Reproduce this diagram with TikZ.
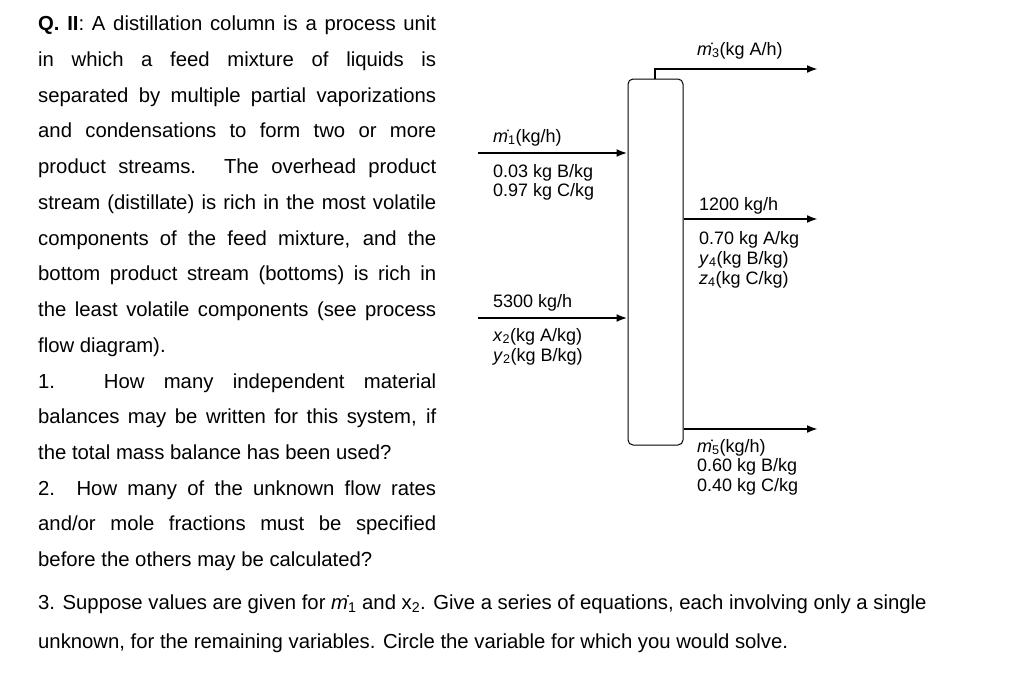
\documentclass[tikz,border=0pt]{standalone}
\usetikzlibrary{arrows.meta}
\usepackage{fontspec}
\setmainfont{Liberation Sans}
\newcommand\mdot[1]{\.{\textit{m}}\textsubscript{#1}}
\newcommand\vsub[2]{\textit{#1}\textsubscript{#2}}
\begin{document}
\begin{tikzpicture}[x=1pt,y=-1pt,
  tl/.style={anchor=base west,inner sep=0pt,font=\fontsize{20.3}{22}\selectfont},
  dl/.style={anchor=base west,inner sep=0pt,font=\fontsize{18}{20}\selectfont},
  flow/.style={line width=2.6pt,-{Latex[length=11pt,width=8pt]}}]
\useasboundingbox (0,0) rectangle (1024,686);
\foreach \t/\y in {{\textbf{Q. II}: A distillation column is a process unit}/30,
 {in which a feed mixture of liquids is}/66,
 {separated by multiple partial vaporizations}/102,
 {and condensations to form two or more}/137,
 {product streams. The overhead product}/173,
 {stream (distillate) is rich in the most volatile}/209,
 {components of the feed mixture, and the}/245,
 {bottom product stream (bottoms) is rich in}/280,
 {the least volatile components (see process}/316,
 {1. How many independent material}/388,
 {balances may be written for this system, if}/423,
 {2. How many of the unknown flow rates}/495,
 {and/or mole fractions must be specified}/530}
 {\node[tl] at (38,\y) {\makebox[398pt][s]{\t}};}
\node[tl] (a) at (38,352) {flow diagram).};
\node[tl] (b) at (38,459) {the total mass balance has been used?};
\node[tl] (c) at (38,566) {before the others may be calculated?};
\node[tl] (d) at (38,609) {3. Suppose values are given for \mdot{1} and x\textsubscript{2}. Give a series of equations, each involving only a single};
\node[tl] (e) at (38,648) {unknown, for the remaining variables. Circle the variable for which you would solve.};
% diagram
\node[draw,line width=1pt,rounded corners=5pt,minimum width=55pt,minimum height=366pt,inner sep=0pt] (col) at (655.5,262) {};
\coordinate (top) at (655,79);
\coordinate (e3) at (818,69);
\coordinate (s1) at (478,153); \coordinate (s2) at (478,318);
\coordinate (e4) at (818,219); \coordinate (e5) at (818,429);
\draw[flow] (top) |- (e3);
\draw[flow] (s1) -- (s1 -| col.west);
\draw[flow] (s2) -- (s2 -| col.west);
\draw[flow] (col.east |- e4) -- (e4);
\draw[flow] (col.east |- e5) -- (e5);
\node[dl] (l3) at (697,55) {\mdot{3}(kg A/h)};
\node[dl] (l1) at (493,142) {\mdot{1}(kg/h)};
\node[dl] (l1b) at (493,177) {0.03 kg B/kg};
\node[dl] (l1c) at (493,196) {0.97 kg C/kg};
\node[dl] (l4) at (699,210) {1200 kg/h};
\node[dl] (l4b) at (699,244) {0.70 kg A/kg};
\node[dl] (l4c) at (699,264) {\vsub{y}{4}(kg B/kg)};
\node[dl] (l4d) at (699,284) {\vsub{z}{4}(kg C/kg)};
\node[dl] (l2) at (493,307) {5300 kg/h};
\node[dl] (l2b) at (493,341) {\vsub{x}{2}(kg A/kg)};
\node[dl] (l2c) at (493,361) {\vsub{y}{2}(kg B/kg)};
\node[dl] (l5) at (697,452) {\mdot{5}(kg/h)};
\node[dl] (l5b) at (697,471) {0.60 kg B/kg};
\node[dl] (l5c) at (697,491) {0.40 kg C/kg};
\end{tikzpicture}
\end{document}
